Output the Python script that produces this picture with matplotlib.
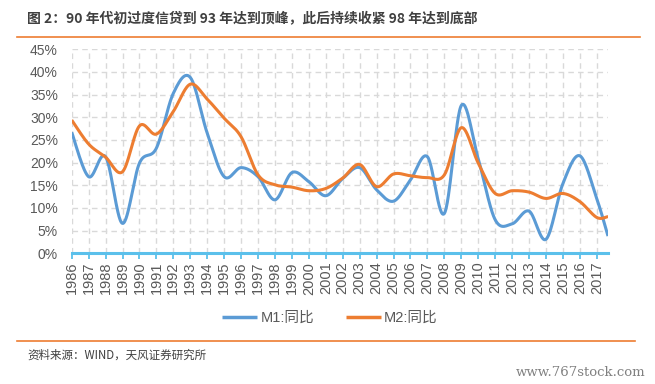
import numpy as np
import matplotlib
matplotlib.use("Agg")
import matplotlib.pyplot as plt
from matplotlib.lines import Line2D

plt.rcParams['font.family'] = ['Liberation Sans', 'Noto Sans CJK SC', 'DejaVu Sans']

# ---- data ----
years = list(range(1986, 2018))
# final observation (Sep 2018) sits part-way past the last category
x_values = years + [2017.66]
tick_labels = [str(y) for y in years]
m1 = [26.7, 16.9, 21.3, 6.6, 19.9, 23.2, 35.3, 38.8, 26.5, 16.9, 18.9, 16.9,
      11.8, 17.8, 15.8, 12.7, 16.5, 18.9, 14.0, 11.5, 16.2, 21.3, 8.8, 32.6,
      20.8, 7.4, 6.5, 9.3, 3.1, 15.4, 21.5, 12.0, 3.8]
m2 = [29.4, 24.1, 21.2, 18.0, 28.1, 26.3, 31.3, 37.3, 34.0, 29.8, 25.7, 17.3,
      15.1, 14.6, 13.8, 14.3, 16.6, 19.6, 14.7, 17.5, 17.1, 16.7, 17.3, 27.7,
      19.9, 13.2, 13.8, 13.5, 12.1, 13.2, 11.4, 7.9, 8.1]
series_names = ["M1:同比", "M2:同比"]
y_ticks = [0, 5, 10, 15, 20, 25, 30, 35, 40, 45]


def smooth(xs, ys, n=30):
    xs = np.asarray(xs, float)
    ys = np.asarray(ys, float)
    px = np.concatenate([[xs[0]], xs, [xs[-1]]])
    py = np.concatenate([[ys[0]], ys, [ys[-1]]])
    outx, outy = [], []
    t = np.linspace(0, 1, n)
    for i in range(1, len(px) - 2):
        p0x, p1x, p2x, p3x = px[i - 1], px[i], px[i + 1], px[i + 2]
        p0y, p1y, p2y, p3y = py[i - 1], py[i], py[i + 1], py[i + 2]
        c1x = p1x + (p2x - p0x) / 6
        c1y = p1y + (p2y - p0y) / 6
        c2x = p2x - (p3x - p1x) / 6
        c2y = p2y - (p3y - p1y) / 6
        bx = ((1 - t) ** 3 * p1x + 3 * (1 - t) ** 2 * t * c1x
              + 3 * (1 - t) * t ** 2 * c2x + t ** 3 * p2x)
        by = ((1 - t) ** 3 * p1y + 3 * (1 - t) ** 2 * t * c1y
              + 3 * (1 - t) * t ** 2 * c2y + t ** 3 * p2y)
        outx.extend(bx[:-1] if i < len(px) - 3 else bx)
        outy.extend(by[:-1] if i < len(px) - 3 else by)
    return np.array(outx), np.array(outy)


W, H = 655, 384
fig = plt.figure(figsize=(W / 100, H / 100), dpi=100)
ax = fig.add_axes([71.7 / W, 1 - 253.3 / H, (608 - 71.7) / W, (253.3 - 49.3) / H])

blue = '#5B9BD5'
orange = '#ED7D31'
axis_c = '#5BC0EB'
grid_c = '#D9D9D9'
text_c = '#595959'

# grid
for y in y_ticks[1:]:
    ax.axhline(y, color=grid_c, lw=1, ls=(0, (4, 3)), zorder=1)
for x in years:
    ax.axvline(x, color=grid_c, lw=1, ls=(0, (4, 3)), zorder=1)

sx, sy = smooth(x_values, m1)
ax.plot(sx, sy, color=blue, lw=2.2, zorder=3, label=series_names[0],
        solid_capstyle='butt')
sx, sy = smooth(x_values, m2)
ax.plot(sx, sy, color=orange, lw=2.2, zorder=3, label=series_names[1],
        solid_capstyle='butt')

ax.set_xlim(years[0], x_values[-1])
ax.set_ylim(0, 45)
ax.set_yticks(y_ticks)
ax.set_yticklabels([f"{v}%" for v in y_ticks],
                   fontfamily=['Liberation Sans Narrow', 'Liberation Sans'],
                   fontsize=10, color=text_c)
ax.set_xticks(years)
ax.set_xticklabels(tick_labels, rotation=90, fontsize=10.5, color=text_c,
                   fontfamily=['Liberation Sans'])
ax.tick_params(axis='y', length=0, pad=10)
ax.tick_params(axis='x', length=4, width=1.3, color=axis_c, pad=2)
for s in ['top', 'right', 'left']:
    ax.spines[s].set_visible(False)
ax.spines['bottom'].set_color(axis_c)
ax.spines['bottom'].set_linewidth(2.2)
ax.spines['bottom'].set_zorder(4)
ax.patch.set_alpha(0)

leg = fig.legend(loc='center', bbox_to_anchor=(330 / W, 1 - 318 / H), ncol=2,
                 frameon=False, handlelength=2.4,
                 handletextpad=0.2, columnspacing=2.2,
                 prop={'family': ['Liberation Sans', 'Noto Sans CJK SC'], 'size': 10.5})
for t in leg.get_texts():
    t.set_color(text_c)
for l in leg.get_lines():
    l.set_linewidth(2.5)

# title and decorations
fig.text(27 / W, 1 - 19 / H,
         "图 2：90 年代初过度信贷到 93 年达到顶峰，此后持续收紧 98 年达到底部",
         fontsize=10, fontweight='bold', color='#404040', va='center', ha='left',
         fontfamily=['Noto Sans CJK SC', 'DejaVu Sans'])
fig.add_artist(Line2D([17 / W, 640 / W], [1 - 37 / H, 1 - 37 / H],
                      color=orange, lw=1.2, transform=fig.transFigure))
fig.add_artist(Line2D([17 / W, 635 / W], [1 - 341 / H, 1 - 341 / H],
                      color=orange, lw=1.2, transform=fig.transFigure))
fig.text(27 / W, 1 - 355 / H, "资料来源：WIND，天风证券研究所",
         fontsize=8.3, color='#404040', va='center', ha='left',
         fontfamily=['Noto Sans CJK SC', 'DejaVu Sans'])
fig.text(645 / W, 1 - 372 / H, "www.767stock.com", fontsize=9.5,
         color='#808080', va='center', ha='right',
         fontfamily=['DejaVu Serif'])

fig.savefig('out.png', dpi=100)
